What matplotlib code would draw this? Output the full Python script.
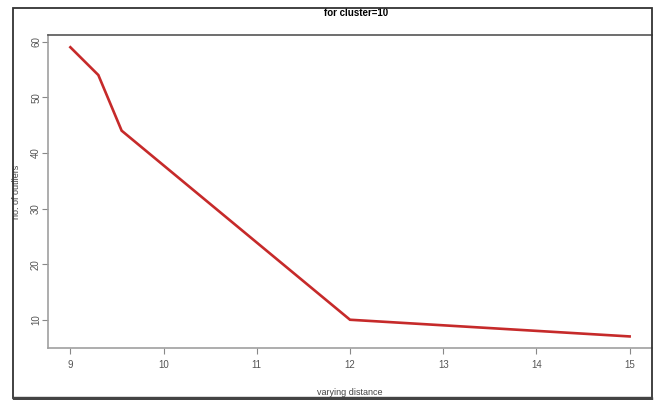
import matplotlib.pyplot as plt
from matplotlib.patches import Rectangle

plt.rcParams['font.family'] = ['Liberation Sans', 'DejaVu Sans']

# distance vs number of outliers
distance = [9, 9.3, 9.55, 12, 15]
outliers = [59, 54, 44, 10, 7]
xticks = [9, 10, 11, 12, 13, 14, 15]
yticks = [10, 20, 30, 40, 50, 60]

fig = plt.figure(figsize=(6.58, 4), dpi=100)
ax = fig.add_axes([48/658, 1-348/400, (652-48)/658, (348-35)/400])

ax.plot(distance, outliers, color='#c62a2a', lw=1.9, solid_joinstyle='miter')
ax.set_xlim(8.76, 15.24)
ax.set_ylim(4.92, 61.2)
ax.set_xticks(xticks)
ax.set_yticks(yticks)
ax.set_yticklabels([str(v) for v in yticks], rotation=90, va='center')

ax.tick_params(direction='out', length=4, width=0.8, color='#888888',
               labelsize=7, labelcolor='#555555')
ax.tick_params(axis='x', pad=5)
ax.tick_params(axis='y', pad=1)
for s in ['left', 'bottom']:
    ax.spines[s].set_color('#a0a0a0')
    ax.spines[s].set_linewidth(1.2)
ax.spines['top'].set_color('#555555')
ax.spines['top'].set_linewidth(1.2)
ax.spines['right'].set_visible(False)

ax.set_title('for cluster=10', fontsize=7, fontweight='bold', pad=14, x=0.51)
ax.set_xlabel('varying distance', fontsize=6.5, color='#444444')
ax.set_ylabel('no. of outliers', fontsize=6.5, color='#444444')
ax.xaxis.set_label_coords(0.5, -0.128)
ax.yaxis.set_label_coords(-0.044, 0.5)

# outer frame of the screenshot
fig.patches.append(Rectangle((13/658, 2/400), (652-13)/658, (392-2)/400,
                             transform=fig.transFigure, fill=False,
                             edgecolor='#333333', lw=1.3))
fig.patches.append(Rectangle((13/658, 0), (652-13)/658, 3/400,
                             transform=fig.transFigure, color='#444444'))

fig.savefig('out.png', dpi=100)
